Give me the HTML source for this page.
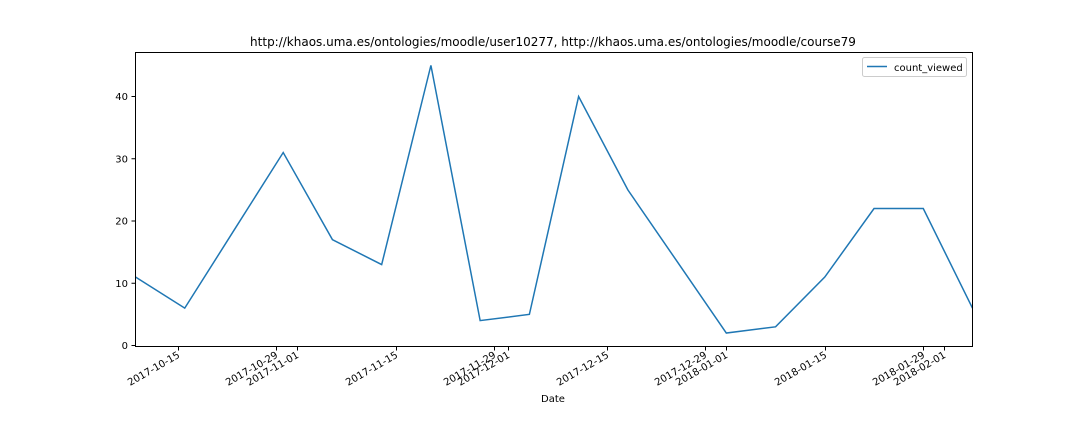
<!DOCTYPE html>
<html><head><meta charset="utf-8"><style>
body{margin:0;background:#fff;font-family:"DejaVu Sans","Liberation Sans",sans-serif;}
svg text{font-family:"DejaVu Sans","Liberation Sans",sans-serif;}
</style></head><body>
<svg id="chart" width="1080" height="432" xmlns="http://www.w3.org/2000/svg">
<rect width="1080" height="432" fill="#fff"/>
<text x="553" y="46" font-size="12" text-anchor="middle">http://khaos.uma.es/ontologies/moodle/user10277, http://khaos.uma.es/ontologies/moodle/course79</text>
<g id="axes"></g>
<rect x="135.5" y="52.5" width="837" height="294" fill="none" stroke="#000" stroke-width="1"/>
<g>
<rect x="862.5" y="57.5" width="104" height="19" fill="#fff" stroke="#ccc" rx="2"/>
<line x1="867" y1="66.5" x2="887" y2="66.5" stroke="#1f77b4" stroke-width="1.5"/>
<text x="894" y="71" font-size="10">count_viewed</text>
</g>
<text x="553" y="402" font-size="10" text-anchor="middle">Date</text>
</svg>
<script>
const dates=["2017-10-09","2017-10-16","2017-10-23","2017-10-30","2017-11-06","2017-11-13","2017-11-20","2017-11-27","2017-12-04","2017-12-11","2017-12-18","2017-12-25","2018-01-01","2018-01-08","2018-01-15","2018-01-22","2018-01-29","2018-02-05"];
const values=[11,6,18.5,31,17,13,45,4,5,40,25,13.5,2,3,11,22,22,6];
const yTicks=[0,10,20,30,40];
const xTicks=["2017-10-15","2017-10-29","2017-11-01","2017-11-15","2017-11-29","2017-12-01","2017-12-15","2017-12-29","2018-01-01","2018-01-15","2018-01-29","2018-02-01"];
const NS="http://www.w3.org/2000/svg";
const d0=Date.parse(dates[0]),d1=Date.parse(dates[dates.length-1]);
const X=d=>135.5+(Date.parse(d)-d0)/(d1-d0)*837;
const Y=v=>345.5-v*6.225;
const g=document.getElementById('axes');
function mk(t,a){const e=document.createElementNS(NS,t);for(const k in a)e.setAttribute(k,a[k]);return e;}
yTicks.forEach(v=>{
 const y=Y(v);
 const l=mk('line',{x1:131.5,x2:135.5,y1:y,y2:y,stroke:'#000'});
 
 
 g.appendChild(l);
 const t=mk('text',{x:128,y:y+3.5,'font-size':10,'text-anchor':'end'});
 
 
 t.textContent=v;g.appendChild(t);
});
xTicks.forEach(d=>{
 const x=Math.round(X(d))+0.5;
 const l=mk('line',{x1:x,x2:x,y1:346.5,y2:350.5,stroke:'#000'});
 
 
 g.appendChild(l);
 const t=mk('text',{x:x+2,y:357,'font-size':10,'text-anchor':'end',transform:`rotate(-30 ${x+2} 357)`});
 
 
 t.textContent=d;g.appendChild(t);
});
const p=mk('polyline',{points:dates.map((d,i)=>X(d)+','+Y(values[i])).join(' '),fill:'none',stroke:'#1f77b4','stroke-width':1.5});


g.appendChild(p);
</script>
</body></html>
